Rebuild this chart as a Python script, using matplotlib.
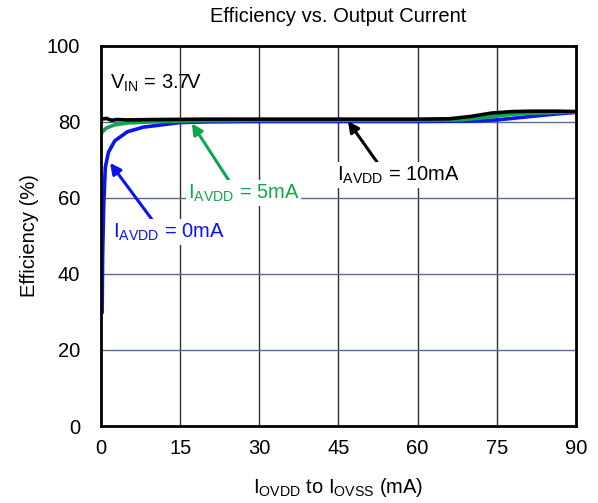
import matplotlib
matplotlib.use("Agg")
import matplotlib.pyplot as plt

plt.rcParams["font.family"] = ["Liberation Sans", "DejaVu Sans"]

# I_AVDD = 0mA
x_0ma = [0.2, 0.3, 0.5, 0.8, 1.4, 2.6, 5.0, 8.0, 11.5, 15, 20, 30, 45, 60, 70, 75, 80, 85, 90]
y_0ma = [30.0, 45.0, 58.0, 68.0, 72.0, 75.0, 77.4, 78.6, 79.2, 79.8, 80.0, 80.1, 80.1, 80.1, 80.2, 80.5, 81.2, 81.9, 82.5]

# I_AVDD = 5mA
x_5ma = [0.3, 1.0, 2.6, 5.0, 10, 15, 20, 30, 45, 60, 68, 72, 76, 80, 85, 90]
y_5ma = [77.4, 78.4, 79.2, 79.7, 80.0, 80.2, 80.3, 80.4, 80.4, 80.4, 80.5, 81.0, 81.7, 82.2, 82.4, 82.6]

# I_AVDD = 10mA
x_10ma = [0.5, 1.0, 2.0, 3.0, 5, 10, 20, 30, 45, 60, 66, 70, 74, 78, 82, 86, 90]
y_10ma = [80.8, 80.9, 80.4, 80.6, 80.5, 80.6, 80.7, 80.7, 80.7, 80.7, 80.8, 81.4, 82.3, 82.7, 82.8, 82.8, 82.7]

x_ticks = [0, 15, 30, 45, 60, 75, 90]
y_ticks = [0, 20, 40, 60, 80, 100]

FS = 14.5
BLUE = "#0a14f0"
GREEN = "#10a650"

fig = plt.figure(figsize=(5.98, 5.03), dpi=100)
ax = fig.add_axes([0.169, 0.153, 0.794, 0.756])

ax.plot(x_0ma, y_0ma, color=BLUE, lw=2.6, zorder=3)
ax.plot(x_5ma, y_5ma, color=GREEN, lw=2.6, zorder=4)
ax.plot(x_10ma, y_10ma, color="black", lw=2.6, zorder=5)

ax.set_xlim(0, 90)
ax.set_ylim(0, 100)
ax.set_xticks(x_ticks)
ax.set_yticks(y_ticks)
ax.tick_params(length=0, labelsize=FS)
ax.tick_params(axis="x", pad=9)
ax.tick_params(axis="y", pad=15)

for x in x_ticks[1:-1]:
    ax.axvline(x, color="#303030", lw=1.0, zorder=1)
for y in y_ticks[1:-1]:
    ax.axhline(y, color="#5a6e8c", lw=1.0, zorder=1)

for s in ax.spines.values():
    s.set_linewidth(2)
    s.set_zorder(6)

ax.set_title("Efficiency vs. Output Current", fontsize=FS, pad=17)
ax.set_xlabel(r"I$_{\mathregular{OVDD}}$ to I$_{\mathregular{OVSS}}$ (mA)", fontsize=FS, labelpad=13)
ax.set_ylabel("Efficiency (%)", fontsize=FS, labelpad=6)

ax.text(1.6, 90, r"V$_{\mathregular{IN}}$ = 3.7V", fontsize=FS, va="center", ha="left")

box = dict(facecolor="white", edgecolor="none", pad=1.5)
ax.annotate(r"I$_{\mathregular{AVDD}}$ = 0mA", xy=(1.7, 69.2), xytext=(2.3, 51),
            fontsize=FS, color=BLUE, va="center", ha="left", bbox=box, zorder=7,
            arrowprops=dict(arrowstyle="-|>", color=BLUE, lw=2.2,
                            mutation_scale=16, shrinkA=0, shrinkB=0,
                            relpos=(0.36, 1.0)))
ax.annotate(r"I$_{\mathregular{AVDD}}$ = 5mA", xy=(17.2, 79.6), xytext=(16.4, 61.3),
            fontsize=FS, color=GREEN, va="center", ha="left", bbox=box, zorder=7,
            arrowprops=dict(arrowstyle="-|>", color=GREEN, lw=2.2,
                            mutation_scale=16, shrinkA=0, shrinkB=0,
                            relpos=(0.38, 1.0)))
ax.annotate(r"I$_{\mathregular{AVDD}}$ = 10mA", xy=(46.8, 80.2), xytext=(44.7, 66),
            fontsize=FS, color="black", va="center", ha="left", bbox=box, zorder=7,
            arrowprops=dict(arrowstyle="-|>", color="black", lw=2.2,
                            mutation_scale=16, shrinkA=0, shrinkB=0,
                            relpos=(0.34, 1.0)))

fig.savefig("out.png", dpi=100)
